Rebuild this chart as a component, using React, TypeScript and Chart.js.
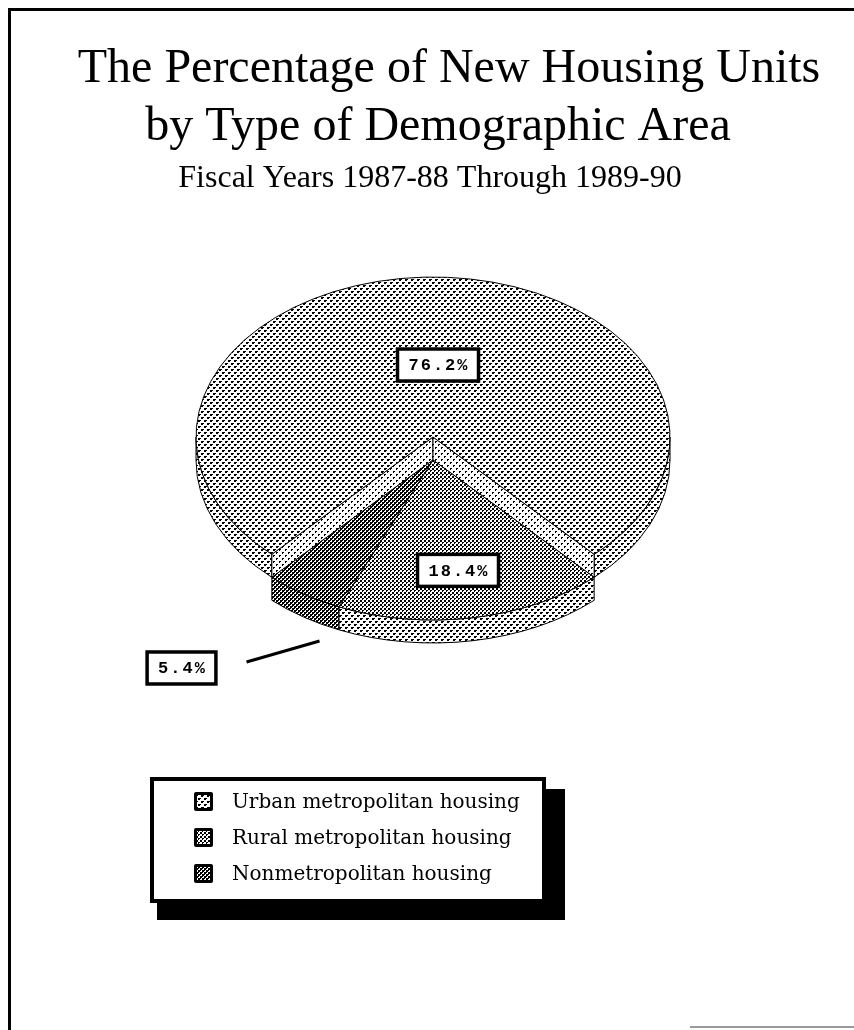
import React, { useEffect, useRef } from "react";
import { Chart, registerables } from "chart.js";

Chart.register(...registerables);

// ---------- data ----------
const TITLE_LINE_1 = "The Percentage of New Housing Units";
const TITLE_LINE_2 = "by Type of Demographic Area";
const SUBTITLE = "Fiscal Years 1987-88 Through 1989-90";
const CATEGORIES = [
  "Urban metropolitan housing",
  "Rural metropolitan housing",
  "Nonmetropolitan housing",
];
const SHARES = [76.2, 18.4, 5.4];
const SHARE_LABELS = ["76.2%", "18.4%", "5.4%"];

// ---------- layout ----------
const W = 854;
const H = 1030;
const PIE_CX = 433;
const PIE_CY = 437;
const PIE_R = 237;
const TILT = 0.675;
const DEPTH = 23;

type Pats = {
  urbanTop: CanvasPattern;
  urbanSide: CanvasPattern;
  urbanWall: CanvasPattern;
  ruralTop: CanvasPattern;
  ruralSide: CanvasPattern;
  nonTop: CanvasPattern;
  nonSide: CanvasPattern;
};

function makePattern(ctx: CanvasRenderingContext2D, size: number, dots: number[][]): CanvasPattern {
  const c = document.createElement("canvas");
  c.width = size;
  c.height = size;
  const g = c.getContext("2d")!;
  g.fillStyle = "#ffffff";
  g.fillRect(0, 0, size, size);
  g.fillStyle = "#000000";
  dots.forEach(([x, y, w, h]) => g.fillRect(x, y, w, h));
  return ctx.createPattern(c, "repeat")!;
}

let cachedPats: Pats | null = null;
function getPatterns(ctx: CanvasRenderingContext2D): Pats {
  if (cachedPats) return cachedPats;
  cachedPats = {
    urbanTop: makePattern(ctx, 6, [[0, 0, 2, 2], [3, 3, 2, 2], [2, 0, 1, 1], [5, 3, 1, 1]]),
    urbanSide: makePattern(ctx, 6, [[0, 0, 2, 2], [3, 3, 2, 2], [2, 0, 1, 1], [5, 3, 1, 1]]),
    urbanWall: makePattern(ctx, 6, [[0, 0, 2, 1], [3, 3, 2, 1], [0, 1, 1, 1], [3, 4, 1, 1]]),
    ruralTop: makePattern(ctx, 4, [[0, 0, 2, 2], [2, 2, 2, 1], [2, 3, 1, 1]]),
    ruralSide: makePattern(ctx, 6, [[0, 0, 2, 2], [3, 3, 2, 2], [2, 0, 1, 1], [5, 3, 1, 1]]),
    nonTop: makePattern(ctx, 4, [[0, 0, 2, 2], [2, 2, 2, 2], [2, 0, 1, 1], [0, 2, 1, 1]]),
    nonSide: makePattern(ctx, 4, [[0, 0, 2, 2], [2, 2, 2, 2], [2, 0, 1, 1], [0, 2, 1, 1]]),
  };
  return cachedPats;
}

function frontRanges(a: number, b: number): number[][] {
  const out: number[][] = [];
  for (let k = -3; k <= 3; k++) {
    const lo = Math.max(a + 2 * Math.PI * k, 0);
    const hi = Math.min(b + 2 * Math.PI * k, Math.PI);
    if (hi > lo) out.push([lo, hi]);
  }
  return out;
}

const pie3dPlugin = {
  id: "pie3d",
  beforeDatasetsDraw(chart: any) {
    const ctx: CanvasRenderingContext2D = chart.ctx;
    const arcs = chart.getDatasetMeta(0).data as any[];
    if (!arcs.length) return false;
    const P = getPatterns(ctx);
    const cx = arcs[0].x;
    const cy = arcs[0].y;
    const rx = arcs[0].outerRadius;
    const ry = rx * TILT;
    const lift = (i: number) => (i === 0 ? 0 : DEPTH);
    const topFill = [P.urbanTop, P.ruralTop, P.nonTop];
    const sideFill = [P.urbanSide, P.ruralSide, P.nonSide];
    const pt = (t: number, off: number) => [cx + rx * Math.cos(t), cy + off + ry * Math.sin(t)];

    ctx.save();
    ctx.strokeStyle = "#000";
    ctx.lineWidth = 1;
    ctx.lineJoin = "round";

    const side = (a: number, b: number, off: number, fill: CanvasPattern) => {
      frontRanges(a, b).forEach(([lo, hi]) => {
        ctx.beginPath();
        ctx.ellipse(cx, cy + off, rx, ry, 0, lo, hi, false);
        const p = pt(hi, off + DEPTH);
        ctx.lineTo(p[0], p[1]);
        ctx.ellipse(cx, cy + off + DEPTH, rx, ry, 0, hi, lo, true);
        ctx.closePath();
        ctx.fillStyle = fill;
        ctx.fill();
        ctx.stroke();
      });
    };
    const top = (a: number, b: number, off: number, fill: CanvasPattern) => {
      ctx.beginPath();
      ctx.moveTo(cx, cy + off);
      ctx.ellipse(cx, cy + off, rx, ry, 0, a, b, false);
      ctx.closePath();
      ctx.fillStyle = fill;
      ctx.fill();
      ctx.stroke();
    };
    const wall = (t: number, off: number, fill: CanvasPattern) => {
      const p1 = pt(t, off);
      const p2 = pt(t, off + DEPTH);
      ctx.beginPath();
      ctx.moveTo(cx, cy + off);
      ctx.lineTo(p1[0], p1[1]);
      ctx.lineTo(p2[0], p2[1]);
      ctx.lineTo(cx, cy + off + DEPTH);
      ctx.closePath();
      ctx.fillStyle = fill;
      ctx.fill();
      ctx.stroke();
    };

    // raised slice (urban)
    const u = arcs[0];
    side(u.startAngle, u.endAngle, lift(0), sideFill[0]);
    wall(u.startAngle, lift(0), P.urbanWall);
    wall(u.endAngle, lift(0), P.urbanWall);
    top(u.startAngle, u.endAngle, lift(0), topFill[0]);

    // lowered slices
    for (let i = 1; i < arcs.length; i++) {
      side(arcs[i].startAngle, arcs[i].endAngle, lift(i), sideFill[i]);
    }
    for (let i = 1; i < arcs.length; i++) {
      top(arcs[i].startAngle, arcs[i].endAngle, lift(i), topFill[i]);
    }
    ctx.restore();
    return false;
  },
  afterDraw(chart: any) {
    const ctx: CanvasRenderingContext2D = chart.ctx;
    const arcs = chart.getDatasetMeta(0).data as any[];
    if (!arcs.length) return;
    const cx = arcs[0].x;
    const cy = arcs[0].y;
    const rx = arcs[0].outerRadius;
    const ry = rx * TILT;
    const lift = (i: number) => (i === 0 ? 0 : DEPTH);

    const drawBox = (text: string, bx: number, by: number) => {
      ctx.save();
      ctx.font = "bold 17px 'Liberation Mono'";
      const spacing = 2;
      let tw = 0;
      const widths = Array.from(text).map((ch) => ctx.measureText(ch).width);
      widths.forEach((w) => (tw += w));
      tw += spacing * (widths.length - 1);
      const bw = tw + 22;
      const bh = 32;
      ctx.fillStyle = "#fff";
      ctx.fillRect(bx - bw / 2, by - bh / 2, bw, bh);
      ctx.strokeStyle = "#000";
      ctx.lineWidth = 3.5;
      ctx.strokeRect(bx - bw / 2, by - bh / 2, bw, bh);
      ctx.fillStyle = "#000";
      ctx.textBaseline = "middle";
      ctx.textAlign = "left";
      let x = bx - tw / 2;
      Array.from(text).forEach((ch, k) => {
        ctx.fillText(ch, x, by + 1);
        x += widths[k] + spacing;
      });
      ctx.restore();
    };

    arcs.forEach((arc, i) => {
      const mid = (arc.startAngle + arc.endAngle) / 2;
      const off = lift(i);
      if (i === 0) {
        drawBox(SHARE_LABELS[i], cx + rx * 0.45 * Math.cos(mid) + 5, cy + off + ry * 0.45 * Math.sin(mid));
      } else if (i === 1) {
        drawBox(SHARE_LABELS[i], cx + rx * 0.7 * Math.cos(mid) - 3, cy + off + ry * 0.7 * Math.sin(mid));
      } else {
        const ax = cx + rx * Math.cos(mid);
        const ay = cy + off + DEPTH + ry * Math.sin(mid);
        ctx.save();
        ctx.strokeStyle = "#000";
        ctx.lineWidth = 3;
        ctx.beginPath();
        ctx.moveTo(ax + 16, ay + 24);
        ctx.lineTo(ax - 57, ay + 45);
        ctx.stroke();
        ctx.restore();
        drawBox(SHARE_LABELS[i], ax - 122, ay + 51);
      }
    });
  },
};

const decorPlugin = {
  id: "decor",
  beforeDraw(chart: any) {
    const ctx: CanvasRenderingContext2D = chart.ctx;
    ctx.save();
    ctx.fillStyle = "#fff";
    ctx.fillRect(0, 0, chart.width, chart.height);
    ctx.restore();
  },
  afterDraw(chart: any) {
    const ctx: CanvasRenderingContext2D = chart.ctx;
    const P = getPatterns(ctx);
    ctx.save();
    // page frame
    ctx.fillStyle = "#000";
    ctx.fillRect(8, 8, W - 8, 3);
    ctx.fillRect(8, 8, 3, H - 8);
    ctx.fillStyle = "#9a9a9a";
    ctx.fillRect(690, 1026, W - 690, 2);

    // title
    ctx.fillStyle = "#000";
    ctx.textAlign = "center";
    ctx.textBaseline = "alphabetic";
    ctx.font = "48px 'Liberation Serif'";
    ctx.fillText(TITLE_LINE_1, 449, 82);
    ctx.fillText(TITLE_LINE_2, 438, 140);
    ctx.font = "32px 'Liberation Serif'";
    ctx.fillText(SUBTITLE, 430, 187);

    // legend
    ctx.fillStyle = "#000";
    ctx.fillRect(157, 789, 408, 131);
    ctx.fillStyle = "#fff";
    ctx.fillRect(150, 777, 396, 126);
    ctx.strokeStyle = "#000";
    ctx.lineWidth = 4;
    ctx.strokeRect(152, 779, 392, 122);

    const sw = [P.urbanTop, P.ruralTop, P.nonTop];
    const rows = [801, 837, 873];
    ctx.textAlign = "left";
    ctx.font = "20px 'DejaVu Serif'";
    CATEGORIES.forEach((name, i) => {
      const y = rows[i];
      ctx.fillStyle = "#000";
      ctx.beginPath();
      ctx.roundRect(194, y - 9, 19, 19, 2);
      ctx.fill();
      ctx.fillStyle = sw[i];
      ctx.fillRect(197, y - 6, 13, 13);
      ctx.fillStyle = "#000";
      ctx.fillText(name, 232, y + 7);
    });
    ctx.restore();
  },
};

export default function App() {
  const ref = useRef<HTMLCanvasElement | null>(null);
  useEffect(() => {
    document.body.style.margin = "0";
    const canvas = ref.current!;
    const total = SHARES.reduce((s, v) => s + v, 0);
    const firstDeg = (SHARES[0] / total) * 360;
    const restDeg = 360 - firstDeg;
    const rotation = 180 - firstDeg - restDeg / 2;
    const chart = new Chart(canvas, {
      type: "pie",
      data: {
        labels: CATEGORIES,
        datasets: [
          {
            data: SHARES,
            backgroundColor: ["#ccc", "#999", "#666"],
            borderWidth: 0,
            hoverOffset: 0,
          },
        ],
      },
      options: {
        responsive: false,
        animation: false,
        events: [],
        rotation,
        layout: {
          padding: {
            left: PIE_CX - PIE_R,
            right: W - PIE_CX - PIE_R,
            top: PIE_CY - PIE_R,
            bottom: H - PIE_CY - PIE_R,
          },
        },
        plugins: {
          legend: { display: false },
          tooltip: { enabled: false },
          title: { display: false },
        },
      },
      plugins: [decorPlugin, pie3dPlugin],
    } as any);
    return () => chart.destroy();
  }, []);
  return <canvas ref={ref} width={W} height={H} style={{ display: "block" }} />;
}
